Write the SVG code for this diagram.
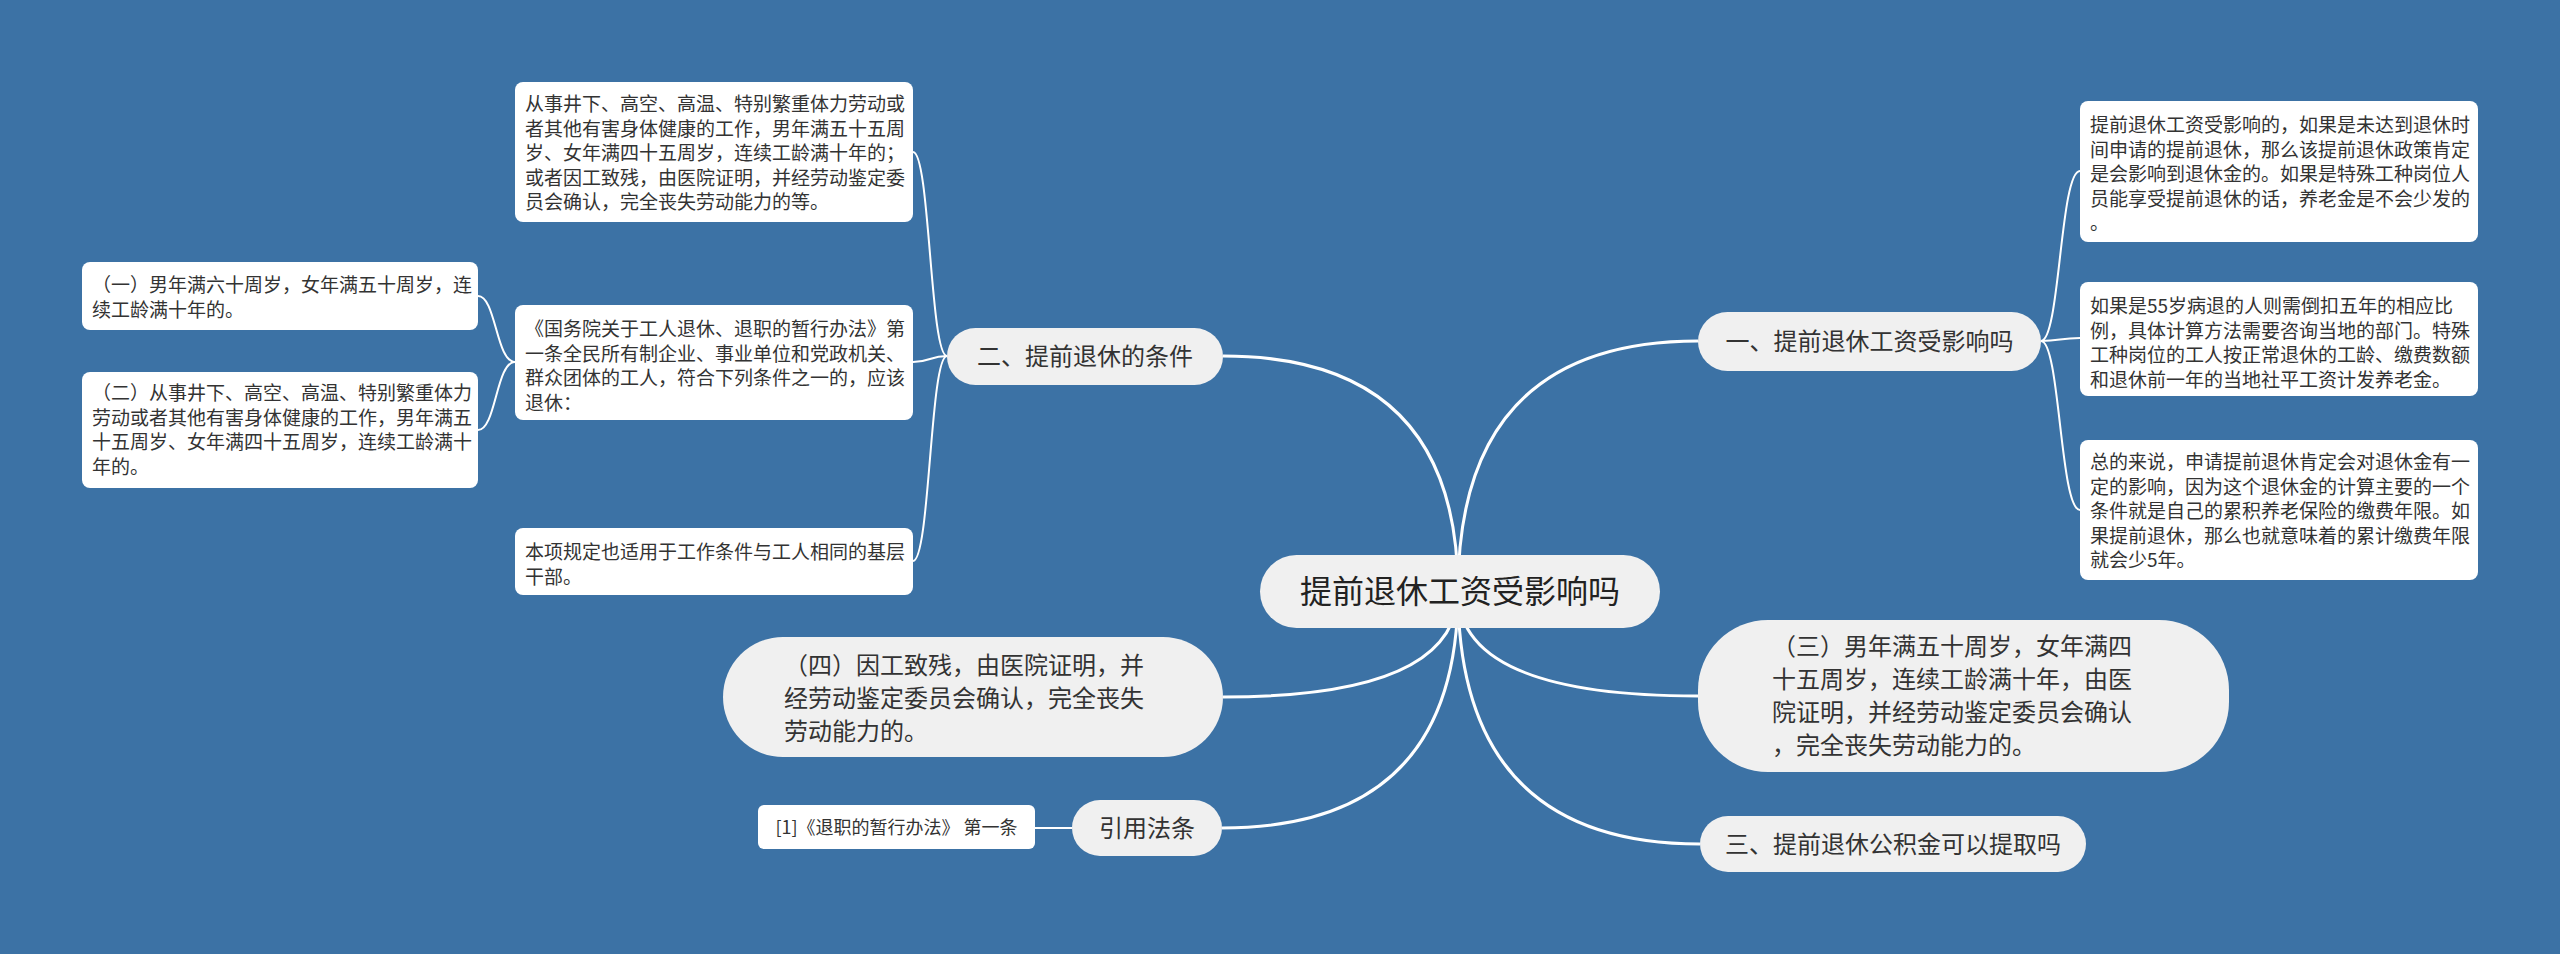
<svg xmlns="http://www.w3.org/2000/svg" width="2560" height="954" viewBox="0 0 2560 954">
<style>
.bg{fill:#3c72a5}
.c1{fill:none;stroke:#ffffff;stroke-width:3}
.c2{fill:none;stroke:#ffffff;stroke-width:2}
.root{fill:#f0f0f0}
.l1{fill:#f0f0f0}
.leaf{fill:#ffffff}
text{font-family:"Noto Sans CJK SC","Noto Sans",sans-serif;fill:#333333}
.t0{font-size:32px;fill:#222222}
.t1{font-size:24px}
.t2{font-size:19px}
.mid{text-anchor:middle}
</style>
<rect class="bg" x="0" y="0" width="2560" height="954"/>
<g id="connectors">
<path class="c1" d="M1458 591 Q1458 356 1223 356"/>
<path class="c1" d="M1458 591 Q1458 341 1698 341"/>
<path class="c1" d="M1458 591 Q1458 697 1223 697"/>
<path class="c1" d="M1458 591 Q1458 828 1222 828"/>
<path class="c1" d="M1458 591 Q1458 696 1698 696"/>
<path class="c1" d="M1458 591 Q1458 844 1700 844"/>
<path class="c2" d="M947 356 C930 356 930 152 913 152"/>
<path class="c2" d="M947 356 C930 356 930 362 913 362"/>
<path class="c2" d="M947 356 C930 356 930 561 913 561"/>
<path class="c2" d="M515 362 C496 362 496 296 478 296"/>
<path class="c2" d="M515 362 C496 362 496 430 478 430"/>
<path class="c2" d="M2041 341 C2060 341 2060 171 2080 171"/>
<path class="c2" d="M2041 341 C2060 341 2060 338 2080 338"/>
<path class="c2" d="M2041 341 C2060 341 2060 510 2080 510"/>
<path class="c2" d="M1072 828 L1035 828"/>
</g>
<g id="root">
<rect class="root" x="1260" y="555" width="400" height="73" rx="36.5"/>
<text class="t0 mid" x="1460" y="603">提前退休工资受影响吗</text>
</g>
<g id="n-tiaojian">
<rect class="l1" x="947" y="328" width="276" height="57" rx="28.5"/>
<text class="t1 mid" x="1085" y="365">二、提前退休的条件</text>
</g>
<g id="n-yingxiang">
<rect class="l1" x="1698" y="312" width="343" height="59" rx="29.5"/>
<text class="t1 mid" x="1869.5" y="350">一、提前退休工资受影响吗</text>
</g>
<g id="n-si">
<rect class="l1" x="723" y="637" width="500" height="120" rx="60"/>
<text class="t1" x="784"><tspan x="784" y="674">（四）因工致残，由医院证明，并</tspan><tspan x="784" y="707">经劳动鉴定委员会确认，完全丧失</tspan><tspan x="784" y="740">劳动能力的。</tspan></text>
</g>
<g id="n-san">
<rect class="l1" x="1698" y="620" width="531" height="152" rx="70"/>
<text class="t1" x="1772"><tspan x="1772" y="655">（三）男年满五十周岁，女年满四</tspan><tspan x="1772" y="688">十五周岁，连续工龄满十年，由医</tspan><tspan x="1772" y="721">院证明，并经劳动鉴定委员会确认</tspan><tspan x="1772" y="754">，完全丧失劳动能力的。</tspan></text>
</g>
<g id="n-yinyong">
<rect class="l1" x="1072" y="800" width="150" height="56" rx="28"/>
<text class="t1 mid" x="1147" y="837">引用法条</text>
</g>
<g id="n-gongjijin">
<rect class="l1" x="1700" y="816" width="386" height="56" rx="28"/>
<text class="t1 mid" x="1893" y="853">三、提前退休公积金可以提取吗</text>
</g>
<g id="n-ref">
<rect class="leaf" x="758" y="805" width="277" height="44" rx="6"/>
<text class="t2 mid" x="896.5" y="834" style="font-size:18px">[1]《退职的暂行办法》 第一条</text>
</g>
<g id="n-a">
<rect class="leaf" x="515" y="82" width="398" height="140" rx="8"/>
<text class="t2"><tspan x="525" y="111">从事井下、高空、高温、特别繁重体力劳动或</tspan><tspan x="525" y="135.5">者其他有害身体健康的工作，男年满五十五周</tspan><tspan x="525" y="160">岁、女年满四十五周岁，连续工龄满十年的；</tspan><tspan x="525" y="184.5">或者因工致残，由医院证明，并经劳动鉴定委</tspan><tspan x="525" y="209">员会确认，完全丧失劳动能力的等。</tspan></text>
</g>
<g id="n-b">
<rect class="leaf" x="515" y="305" width="398" height="115" rx="8"/>
<text class="t2"><tspan x="525" y="336">《国务院关于工人退休、退职的暂行办法》第</tspan><tspan x="525" y="360.5">一条全民所有制企业、事业单位和党政机关、</tspan><tspan x="525" y="385">群众团体的工人，符合下列条件之一的，应该</tspan><tspan x="525" y="409.5">退休：</tspan></text>
</g>
<g id="n-c">
<rect class="leaf" x="515" y="528" width="398" height="67" rx="8"/>
<text class="t2"><tspan x="525" y="559">本项规定也适用于工作条件与工人相同的基层</tspan><tspan x="525" y="583.5">干部。</tspan></text>
</g>
<g id="n-d">
<rect class="leaf" x="82" y="262" width="396" height="68" rx="8"/>
<text class="t2"><tspan x="92" y="292">（一）男年满六十周岁，女年满五十周岁，连</tspan><tspan x="92" y="316.5">续工龄满十年的。</tspan></text>
</g>
<g id="n-e">
<rect class="leaf" x="82" y="372" width="396" height="116" rx="8"/>
<text class="t2"><tspan x="92" y="400">（二）从事井下、高空、高温、特别繁重体力</tspan><tspan x="92" y="424.5">劳动或者其他有害身体健康的工作，男年满五</tspan><tspan x="92" y="449">十五周岁、女年满四十五周岁，连续工龄满十</tspan><tspan x="92" y="473.5">年的。</tspan></text>
</g>
<g id="n-f">
<rect class="leaf" x="2080" y="101" width="398" height="141" rx="8"/>
<text class="t2"><tspan x="2090" y="132">提前退休工资受影响的，如果是未达到退休时</tspan><tspan x="2090" y="156.5">间申请的提前退休，那么该提前退休政策肯定</tspan><tspan x="2090" y="181">是会影响到退休金的。如果是特殊工种岗位人</tspan><tspan x="2090" y="205.5">员能享受提前退休的话，养老金是不会少发的</tspan><tspan x="2090" y="230">。</tspan></text>
</g>
<g id="n-g">
<rect class="leaf" x="2080" y="282" width="398" height="114" rx="8"/>
<text class="t2"><tspan x="2090" y="313">如果是55岁病退的人则需倒扣五年的相应比</tspan><tspan x="2090" y="337.5">例，具体计算方法需要咨询当地的部门。特殊</tspan><tspan x="2090" y="362">工种岗位的工人按正常退休的工龄、缴费数额</tspan><tspan x="2090" y="386.5">和退休前一年的当地社平工资计发养老金。</tspan></text>
</g>
<g id="n-h">
<rect class="leaf" x="2080" y="440" width="398" height="140" rx="8"/>
<text class="t2"><tspan x="2090" y="469">总的来说，申请提前退休肯定会对退休金有一</tspan><tspan x="2090" y="493.5">定的影响，因为这个退休金的计算主要的一个</tspan><tspan x="2090" y="518">条件就是自己的累积养老保险的缴费年限。如</tspan><tspan x="2090" y="542.5">果提前退休，那么也就意味着的累计缴费年限</tspan><tspan x="2090" y="567">就会少5年。</tspan></text>
</g>
</svg>
